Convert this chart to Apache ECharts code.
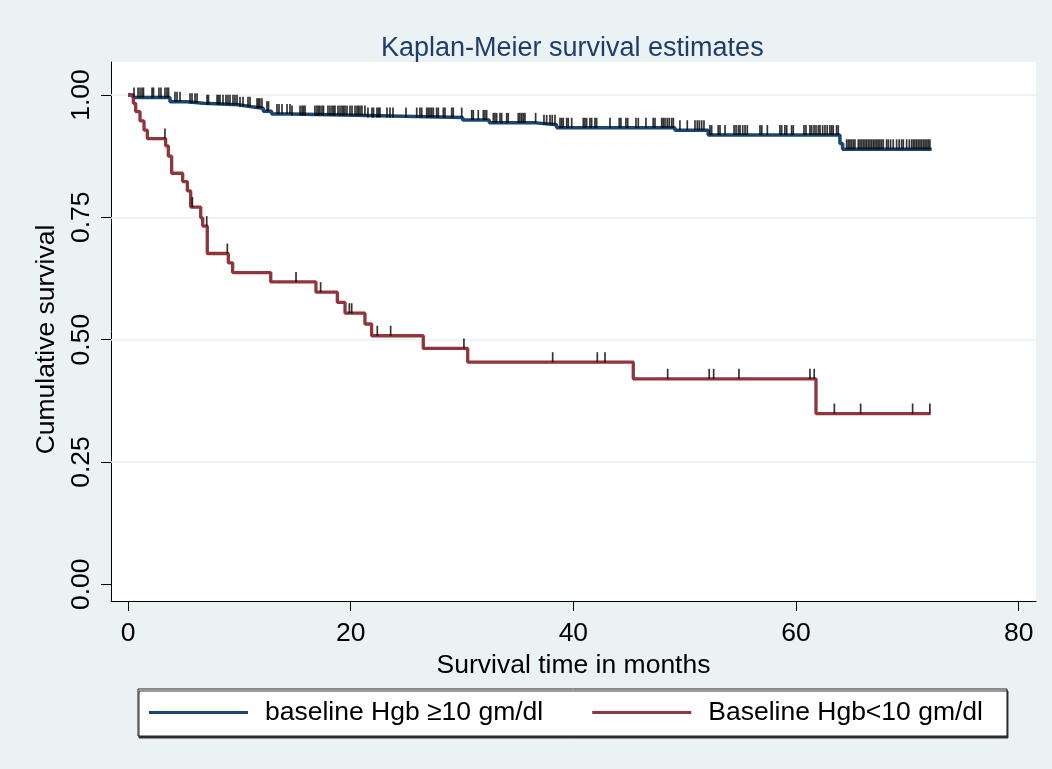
<!DOCTYPE html>
<html><head><meta charset="utf-8">
<script src="https://cdn.jsdelivr.net/npm/echarts@6/dist/echarts.min.js"></script>
<style>html,body{margin:0;padding:0;background:#eaf2f3}#c{width:1052px;height:769px}</style>
</head><body><div id="c"></div>
<script>
const titleText = 'Kaplan-Meier survival estimates';
const xTitle = 'Survival time in months';
const yTitle = 'Cumulative survival';
const seriesNames = ['baseline Hgb \u226510 gm/dl', 'Baseline Hgb<10 gm/dl'];
const xTicks = [0, 20, 40, 60, 80];
const yTicks = [0, 0.25, 0.5, 0.75, 1];
const yGrid = [0.25, 0.5, 0.75, 1];

// group 1: baseline Hgb >= 10 (event times / survival after event)
const blueT = [0, 0.45, 3.77, 5.27, 6.77, 9.91, 11.1, 12.15, 12.9, 14.7, 21.44, 30.06, 32.45, 36.64, 38.5, 49.12, 52.11, 63.94, 64.18, 72.18];
const blueS = [1, 0.995, 0.986, 0.983, 0.980, 0.976, 0.973, 0.967, 0.961, 0.958, 0.954, 0.949, 0.943, 0.939, 0.933, 0.928, 0.918, 0.901, 0.889, 0.889];
// censoring times group 1
const blueC = [0.54, 0.90, 1.08, 1.26, 1.39, 2.16, 2.29, 2.78, 2.96, 3.32, 3.50, 3.64, 4.22, 4.40, 4.67, 5.57, 5.75, 6.02, 6.20, 7.10, 7.23,
  8.0, 8.13, 8.26, 8.53, 8.80, 8.98, 9.16, 9.43, 9.61, 9.79, 10.06, 10.33, 10.78, 10.96, 11.59, 11.72, 11.85, 12.03, 12.48, 12.62,
  13.38, 13.56, 13.83, 14.28, 14.55, 14.73, 15.45, 15.63, 15.76, 15.90, 16.79, 16.97, 17.11, 17.24, 17.42, 17.56,
  17.96, 18.14, 18.32, 18.46, 18.59, 18.86, 19.04, 19.22, 19.35, 19.49, 19.67, 19.94, 20.12, 20.39, 20.57, 20.70, 20.84, 21.01, 21.28,
  21.55, 21.91, 22.05, 22.36, 22.50, 22.63, 23.26, 23.53, 23.80, 24.97, 25.93, 26.22, 26.38, 26.83, 26.97, 27.12, 27.27, 27.42, 27.72, 27.87,
  28.32, 28.47, 29.07, 29.21, 29.97, 30.87, 31.01, 31.46, 31.91, 32.06, 32.21, 32.81, 32.96, 33.11, 33.41, 33.56, 34.01, 34.15,
  35.05, 35.20, 35.36, 35.50, 35.65, 36.61, 37.36, 37.60, 37.90, 38.10, 38.35, 38.80, 38.95, 39.09, 39.40, 39.54, 39.85,
  40.89, 41.04, 41.19, 41.49, 41.64, 41.94, 42.09, 43.29, 44.12, 44.27, 44.72, 44.88, 45.62, 45.83, 46.52, 47.17, 47.33, 47.93, 48.07,
  48.23, 48.43, 48.61, 48.83, 48.98, 49.57, 50.23, 50.92, 51.13, 51.31, 51.52, 51.73, 52.27, 52.42, 53.01, 53.17, 53.62,
  54.43, 54.61, 54.82, 54.97, 55.21, 55.42, 55.62, 56.76, 56.92, 57.42, 58.55, 58.71, 59.00, 59.16, 59.60, 59.75, 60.71, 60.89,
  61.25, 61.40, 61.61, 61.79, 62.00, 62.15, 62.39, 62.60, 62.80, 63.04, 63.20, 63.34, 63.64, 63.79,
  64.54, 64.69, 64.84, 64.99, 65.14, 65.29, 65.59, 65.74, 65.89, 66.04, 66.19, 66.34, 66.49, 66.64, 66.79, 66.94, 67.09, 67.24,
  67.38, 67.53, 67.68, 67.83, 68.13, 68.28, 68.49, 68.73, 69.03, 69.26, 69.48, 69.63, 69.93, 70.17, 70.38, 70.53, 70.68, 70.83,
  70.98, 71.13, 71.28, 71.43, 71.58, 71.73, 71.87, 72.02];

// group 2: baseline Hgb < 10
const redT = [0, 0.48, 0.69, 1.08, 1.44, 1.74, 3.38, 3.62, 3.92, 4.91, 5.33, 5.63, 6.53, 6.71, 7.12, 9.01, 9.4, 12.82, 16.88, 18.8, 19.49, 21.28, 21.88, 26.52, 30.51, 45.38, 61.79, 72.08];
const redS = [1, 0.983, 0.966, 0.947, 0.928, 0.911, 0.896, 0.875, 0.840, 0.823, 0.804, 0.771, 0.749, 0.732, 0.676, 0.657, 0.637, 0.618, 0.597, 0.576, 0.554, 0.532, 0.508, 0.482, 0.454, 0.420, 0.349, 0.349];
const redC = [3.32, 5.78, 7.07, 8.92, 15.09, 17.3, 19.88, 20.09, 22.39, 23.59, 30.17, 38.14, 42.15, 42.84, 48.47, 52.2, 52.6, 54.87, 61.25, 61.63, 63.44, 65.8, 70.47, 72.02];

const FONT = "'Liberation Sans', Arial, Helvetica, sans-serif";
const BLUE = '#1a476f', RED = '#90353b';

function km(T, S) { return T.map((t, i) => [t, S[i]]); }
function survAt(T, S, t) { let v = S[0]; for (let i = 0; i < T.length; i++) { if (T[i] <= t) v = S[i]; else break; } return v; }
function censorPts(C, T, S) { return C.map(t => [t, survAt(T, S, t)]); }

const chart = echarts.init(document.getElementById('c'), null, { renderer: 'canvas' });
const tickStyle = { type: 'scatter', symbol: 'rect', symbolSize: [1.7, 10], symbolOffset: [0, -5],
  itemStyle: { color: '#000' }, z: 4, silent: true, animation: false };

chart.setOption({
  backgroundColor: '#eaf2f3',
  animation: false,
  textStyle: { fontFamily: FONT },
  title: {
    text: titleText, left: 381, top: 35, padding: 0,
    textStyle: { fontFamily: FONT, fontSize: 27, fontWeight: 'normal', color: '#1e3d6b' }
  },
  grid: { left: 111, right: 16, top: 62, bottom: 168, show: true, backgroundColor: '#fff', borderWidth: 0 },
  xAxis: {
    type: 'value', min: -1.527, max: 81.55,
    axisLine: { show: true, onZero: false, lineStyle: { color: '#000', width: 1 } },
    axisTick: { show: true, customValues: xTicks, length: 10, lineStyle: { color: '#000', width: 1 } },
    axisLabel: { customValues: xTicks, margin: 19, color: '#000', fontSize: 26.5, fontFamily: FONT },
    splitLine: { show: false },
    name: xTitle, nameLocation: 'middle', nameGap: 41,
    nameTextStyle: { color: '#000', fontSize: 26.5, fontFamily: FONT }
  },
  yAxis: {
    type: 'value', min: -0.0341, max: 1.0674,
    axisLine: { show: true, onZero: false, lineStyle: { color: '#000', width: 1 } },
    axisTick: { show: true, customValues: yTicks, length: 10, lineStyle: { color: '#000', width: 1 } },
    axisLabel: { customValues: yTicks, rotate: 90, margin: 16, color: '#000', fontSize: 26.5, fontFamily: FONT,
      formatter: v => v.toFixed(2) },
    splitLine: { show: false },
    name: yTitle, nameLocation: 'middle', nameGap: 42,
    nameTextStyle: { color: '#000', fontSize: 26.5, fontFamily: FONT, padding: [0, 16, 0, 0] }
  },
  legend: {
    data: seriesNames, left: 138, top: 689, orient: 'horizontal',
    icon: 'rect', itemWidth: 99, itemHeight: 3, itemGap: 49,
    padding: [10, 24, 10, 11],
    backgroundColor: '#fff', borderColor: '#222', borderWidth: 1, borderRadius: 0,
    shadowColor: '#333', shadowOffsetX: 1, shadowOffsetY: 2, shadowBlur: 0,
    textStyle: { fontFamily: FONT, fontSize: 26.5, color: '#000', lineHeight: 27, padding: [0, 0, 0, 12] },
    selectedMode: false
  },
  series: [
    { type: 'line', name: '_grid', data: [], silent: true, z: 1,
      markLine: { silent: true, z: 1, symbol: ['none', 'none'], label: { show: false }, animation: false,
        lineStyle: { color: '#eaf2f3', width: 1.5, type: 'solid' },
        data: yGrid.map(v => ({ yAxis: v })) } },
    { type: 'line', name: seriesNames[0], data: km(blueT, blueS), step: 'end', showSymbol: false, symbol: 'none',
      lineStyle: { color: BLUE, width: 3.5 }, itemStyle: { color: BLUE }, z: 3 },
    { type: 'line', name: seriesNames[1], data: km(redT, redS), step: 'end', showSymbol: false, symbol: 'none',
      lineStyle: { color: RED, width: 3.3 }, itemStyle: { color: RED }, z: 3 },
    Object.assign({ name: 'cens1', data: censorPts(blueC, blueT, blueS) }, tickStyle),
    Object.assign({ name: 'cens2', data: censorPts(redC, redT, redS) }, tickStyle)
  ]
});
</script></body></html>
